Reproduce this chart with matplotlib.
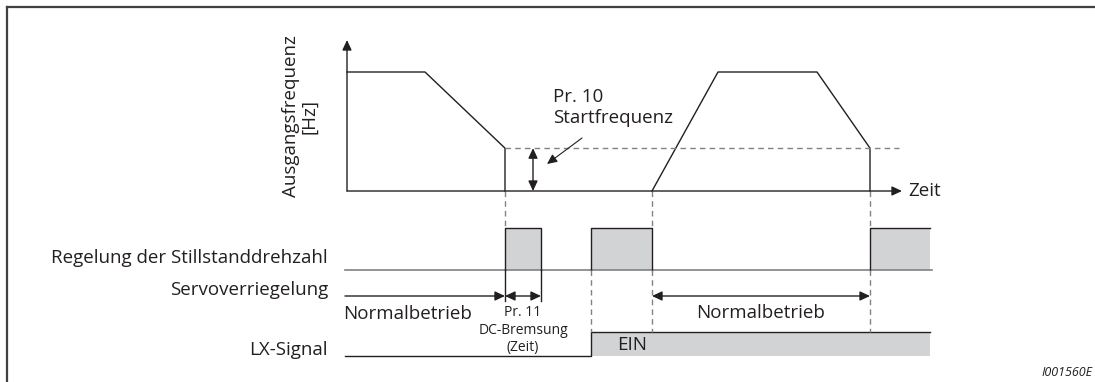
import matplotlib.pyplot as plt
from matplotlib.patches import Rectangle

plt.rcParams['font.family'] = ['Open Sans', 'DejaVu Sans']

# Zeitpunkte / Pegel aus dem Bild (schematische Einheiten)
ramp1_t = [347, 425, 505, 505]
ramp1_f = [1.0, 1.0, 0.36, 0.0]
ramp2_t = [652, 718, 817, 870, 870]
ramp2_f = [0.0, 1.0, 1.0, 0.36, 0.0]
f_start = 0.36
stop_boxes = [(505, 541), (591, 652), (870, 930)]
lx_on = 591
t_row_start = 345
t_end = 930
t_axis_end = 902
t_start_freq_line = (505, 899)

BLACK = '#231f20'
GRAY = '#808285'
FILL = '#d1d3d4'
FS = 13.5

# Zeilenlagen (Pixel)
Y_F0, Y_F1 = 191, 72
Y_R0, Y_R1 = 270, 228
Y_S = 296
Y_L0, Y_L1 = 356, 332


def fy(f):
    return Y_F0 - f * (Y_F0 - Y_F1)


def arrow(ax, x0, y0, x1, y1, style='-|>', color=BLACK, lw=1.0):
    ax.annotate('', xy=(x1, y1), xytext=(x0, y0),
                arrowprops=dict(arrowstyle=style + ',head_length=0.6,head_width=0.28',
                                mutation_scale=10, color=color, lw=lw,
                                shrinkA=0, shrinkB=0))


fig = plt.figure(figsize=(10.95, 3.82), dpi=100)
ax = fig.add_axes([0, 0, 1, 1])
ax.set_xlim(0, 1095)
ax.set_ylim(382, 0)
ax.axis('off')

# Rahmen (oben, links)
ax.plot([7, 1095], [7, 7], color='#414042', lw=1.6)
ax.plot([7, 7], [7, 382], color='#414042', lw=1.6)

# Frequenzdiagramm
arrow(ax, ramp1_t[0], Y_F0, ramp1_t[0], 40)
arrow(ax, ramp1_t[0], Y_F0, t_axis_end, Y_F0)
ax.plot(ramp1_t, [fy(f) for f in ramp1_f], color=BLACK, lw=1.0)
ax.plot(ramp2_t, [fy(f) for f in ramp2_f], color=BLACK, lw=1.0)
ax.plot(t_start_freq_line, [fy(f_start)] * 2, color=GRAY, lw=1.0, ls=(0, (4, 3)))
arrow(ax, 533, fy(f_start), 533, Y_F0, style='<|-|>')
arrow(ax, 582, 138, 547, 164, lw=0.8)

ax.text(300, 116, 'Ausgangsfrequenz\n[Hz]', rotation=90, ha='center', va='center',
        fontsize=FS, color=BLACK, linespacing=1.0)
ax.text(553, 97, 'Pr. 10', ha='left', va='center', fontsize=FS, color=BLACK)
ax.text(553, 118, 'Startfrequenz', ha='left', va='center', fontsize=FS, color=BLACK)
ax.text(908, Y_F0, 'Zeit', ha='left', va='center', fontsize=FS, color=BLACK)

# Regelung der Stillstanddrehzahl
ax.plot([t_row_start, t_end + 2], [Y_R0, Y_R0], color=GRAY, lw=1.2)
for a, b in stop_boxes:
    ax.add_patch(Rectangle((a, Y_R1), b - a, Y_R0 - Y_R1, facecolor=FILL, edgecolor='none'))
    if b < t_end:
        ax.plot([a, a, b, b], [Y_R0, Y_R1, Y_R1, Y_R0], color=BLACK, lw=1.0)
    else:
        ax.plot([a, a, b], [Y_R0, Y_R1, Y_R1], color=BLACK, lw=1.0)

# Servoverriegelung
arrow(ax, t_row_start, Y_S, stop_boxes[0][0], Y_S)
arrow(ax, stop_boxes[0][0], Y_S, stop_boxes[0][1], Y_S, style='<|-|>')
arrow(ax, stop_boxes[1][1], Y_S, stop_boxes[2][0], Y_S, style='<|-|>')
for x in stop_boxes[0]:
    ax.plot([x, x], [Y_R0, 301], color=BLACK, lw=1.0)

# LX-Signal
ax.add_patch(Rectangle((lx_on, Y_L1), t_end - lx_on, Y_L0 - Y_L1, facecolor=FILL, edgecolor='none'))
ax.plot([t_row_start, lx_on, lx_on, t_end], [Y_L0, Y_L0, Y_L1, Y_L1], color=BLACK, lw=1.0)

# gestrichelte Hilfslinien
dash = dict(color=GRAY, lw=1.0, ls=(0, (4, 3)))
for x in (505, 652, 870):
    ax.plot([x, x], [Y_F0, Y_R1], **dash)
for x in (591, 652, 870):
    ax.plot([x, x], [Y_R0, Y_L1], **dash)

# Beschriftungen
ax.text(328, 258, 'Regelung der Stillstanddrehzahl', ha='right', va='center', fontsize=FS, color=BLACK)
ax.text(328, 290, 'Servoverriegelung', ha='right', va='center', fontsize=FS, color=BLACK)
ax.text(328, 350, 'LX-Signal', ha='right', va='center', fontsize=FS, color=BLACK)
ax.text(343, 314, 'Normalbetrieb', ha='left', va='center', fontsize=FS, color=BLACK)
ax.text(761, 313, 'Normalbetrieb', ha='center', va='center', fontsize=FS, color=BLACK)
ax.text(523, 313, 'Pr. 11', ha='center', va='center', fontsize=10, color=BLACK)
ax.text(523, 331, 'DC-Bremsung', ha='center', va='center', fontsize=10, color=BLACK)
ax.text(523, 347, '(Zeit)', ha='center', va='center', fontsize=10, color=BLACK)
ax.text(617, 345, 'EIN', ha='left', va='center', fontsize=FS, color=BLACK)
ax.text(1093, 372, 'I001560E', ha='right', va='center', fontsize=9, style='italic', color=BLACK)

fig.savefig('out.png', dpi=100)
